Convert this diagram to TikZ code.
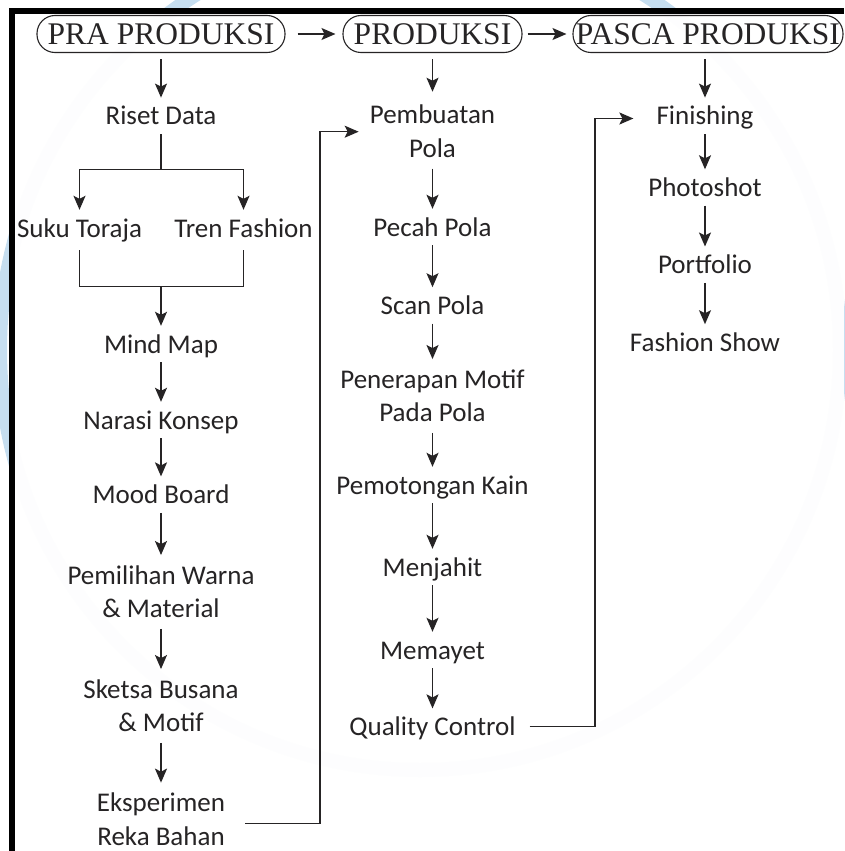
\documentclass[tikz,border=0pt]{standalone}
\usepackage{fontspec}
\setsansfont{Carlito}
\setmainfont{Liberation Serif}
\usetikzlibrary{arrows.meta,calc}
\definecolor{ink}{RGB}{38,36,37}
\definecolor{wm}{RGB}{198,222,240}
\newcommand\twolines[2]{\begin{tabular}[t]{@{}c@{}}#1\\#2\end{tabular}}
\begin{document}
\begin{tikzpicture}[x=1pt,y=-1pt,
  lbl/.style={font=\sffamily\fontsize{27}{33.5}\selectfont, text=ink, inner xsep=0pt, inner ysep=9pt, text height=18pt, text depth=0pt},
  lbltwo/.style={lbl, inner ysep=11pt, text depth=33.5pt},
  hdr/.style={draw=ink, line width=1.1pt, rounded corners=18pt, minimum height=37pt, inner sep=0pt, font=\rmfamily\fontsize{31.5}{32}\selectfont, text=ink},
  arr/.style={draw=ink, line width=1.4pt, -{Stealth[length=14pt,width=12pt,inset=3pt]}},
  ln/.style={draw=ink, line width=1.4pt},
]
\useasboundingbox (0,0) rectangle (844,851);
% watermark and frame
\draw[wm, line width=14pt] (420,350) circle[radius=420];
\fill[white, opacity=0.97] (15,14) rectangle (844,851);
\fill[black] (9,8) rectangle (844,14);
\fill[black] (9,8) rectangle (15,851);

% headers
\node[hdr, minimum width=248pt] (h1) at (161,34) {PRA PRODUKSI};
\node[hdr, minimum width=179pt] (h2) at (432.5,34) {PRODUKSI};
\node[hdr, minimum width=270pt] (h3) at (708,34) {PASCA PRODUKSI};

% column 1
\node[lbl] (riset) at (161,115.8) {Riset Data};
\node[lbl] (suku) at (79.5,228) {Suku Toraja};
\node[lbl] (tren) at (243.5,228) {Tren Fashion};
\node[lbl] (mind) at (161,344) {Mind Map};
\node[lbl] (nar) at (161,420) {Narasi Konsep};
\node[lbl] (mood) at (161,494.6) {Mood Board};
\node[lbltwo] (pem) at (161,592) {\twolines{Pemilihan Warna}{\& Material}};
\node[lbltwo] (skt) at (161,706) {\twolines{Sketsa Busana}{\& Motif}};
\node[lbltwo] (eks) at (161,819.6) {\twolines{Eksperimen}{Reka Bahan}};

% column 2
\node[lbltwo] (pemb) at (432.5,131.7) {\twolines{Pembuatan}{Pola}};
\node[lbl] (pecah) at (432.5,227) {Pecah Pola};
\node[lbl] (scan) at (432.5,305.4) {Scan Pola};
\node[lbltwo] (pen) at (432.5,396) {\twolines{Penerapan Motif}{Pada Pola}};
\node[lbl] (potong) at (432.5,485) {Pemotongan Kain};
\node[lbl] (jahit) at (432.5,567) {Menjahit};
\node[lbl] (mayet) at (432.5,650) {Memayet};
\node[lbl] (qc) at (432.5,726.6) {Quality Control};

% column 3
\node[lbl] (fin) at (705,115.8) {Finishing};
\node[lbl] (photo) at (705,187.5) {Photoshot};
\node[lbl] (port) at (705,264.7) {Portfolio};
\node[lbl] (fs) at (705,342.4) {Fashion Show};

% junction coordinates
\coordinate (j1) at (161,169.6);
\coordinate (j2) at (161,286.4);
\coordinate (e1) at (320,131.7);
\coordinate (e2) at (595,118.5);

% header arrows
\draw[arr] ([xshift=12pt]h1.east) -- ([xshift=-7pt]h2.west);
\draw[arr] ([xshift=5pt]h2.east) -- ([xshift=-6pt]h3.west);
\draw[arr, shorten <=6pt] (h1.south) -- (riset.north);
\draw[arr, shorten <=6pt, shorten >=3pt] (h2.south) -- (pemb.north);
\draw[arr, shorten <=6pt] (h3.south -| fin.north) -- (fin.north);

% column 1 connectors
\draw[ln] (riset.south) -- (j1);
\draw[arr] (j1) -| (suku.north);
\draw[arr] (j1) -| (tren.north);
\draw[ln] ([yshift=-4pt]suku.south) |- (j2);
\draw[ln] ([yshift=-4pt]tren.south) |- (j2);
\draw[arr] (j2) -- (mind.north);
\draw[arr] (mind.south) -- (nar.north);
\draw[arr] (nar.south) -- (mood.north);
\draw[arr] (mood.south) -- (pem.north);
\draw[arr] (pem.south) -- (skt.north);
\draw[arr] (skt.south) -- (eks.north);

% column 2 connectors
\draw[arr] (pemb.south) -- (pecah.north);
\draw[arr] (pecah.south) -- (scan.north);
\draw[arr] (scan.south) -- (pen.north);
\draw[arr] (pen.south) -- (potong.north);
\draw[arr] (potong.south) -- (jahit.north);
\draw[arr] (jahit.south) -- (mayet.north);
\draw[arr] (mayet.south) -- (qc.north);

% column 3 connectors
\draw[arr] (fin.south) -- (photo.north);
\draw[arr] (photo.south) -- (port.north);
\draw[arr] (port.south) -- (fs.north);

% cross-column connectors
\draw[arr] ([xshift=20pt,yshift=-3.8pt]eks.east) -| (e1) -- ([xshift=-11pt]pemb.west);
\draw[arr] ([xshift=14pt]qc.east) -| (e2) -- ([xshift=-23pt,yshift=-2.7pt]fin.west);
\end{tikzpicture}
\end{document}
